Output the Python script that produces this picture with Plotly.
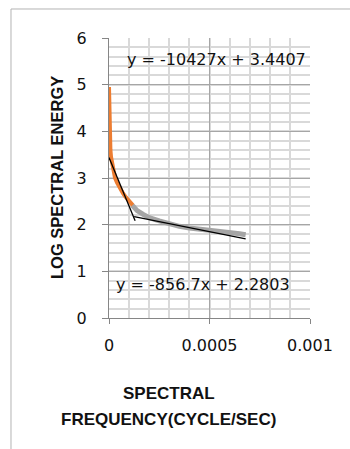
import plotly.graph_objects as go

# Low-frequency part of the spectrum (orange)
low_freq = [0, 0.000002, 0.000004, 0.000007, 0.00001, 0.00002, 0.00003, 0.00004,
            0.00005, 0.00006, 0.00007, 0.00008, 0.00009, 0.0001, 0.00011, 0.000118]
low_energy = [4.95, 4.3, 3.9, 3.6, 3.45, 3.2, 3.0, 2.9,
              2.81, 2.74, 2.67, 2.61, 2.56, 2.51, 2.46, 2.42]

# High-frequency part of the spectrum (gray)
high_freq = [0.000115, 0.00014, 0.00017, 0.0002, 0.00025, 0.0003, 0.00035, 0.0004,
             0.00045, 0.0005, 0.00055, 0.0006, 0.00065, 0.00068]
high_energy = [2.42, 2.30, 2.22, 2.15, 2.08, 2.01, 1.965, 1.93,
               1.91, 1.88, 1.855, 1.835, 1.805, 1.785]

# Linear trend fits: slope, intercept, x-extent
fit1_slope, fit1_icpt, fit1_range = -10427, 3.4407, [0, 0.00013]
fit2_slope, fit2_icpt, fit2_range = -856.7, 2.2803, [0.000125, 0.00068]

x_ticks = [0, 0.0005, 0.001]
x_tick_text = ["0", "0.0005", "0.001"]
y_ticks = [0, 1, 2, 3, 4, 5, 6]

FONT = "DejaVu Sans"
TXT = "#111111"

fig = go.Figure()
fig.add_trace(go.Scatter(x=high_freq, y=high_energy, mode="lines",
                         line=dict(color="#A5A5A5", width=5), showlegend=False))
fig.add_trace(go.Scatter(x=low_freq, y=low_energy, mode="lines",
                         line=dict(color="#ED7D31", width=4), showlegend=False))

for slope, icpt, rng in [(fit1_slope, fit1_icpt, fit1_range),
                         (fit2_slope, fit2_icpt, fit2_range)]:
    fig.add_trace(go.Scatter(x=rng, y=[slope * v + icpt for v in rng], mode="lines",
                             line=dict(color="#000000", width=1.3), showlegend=False))

fig.update_layout(
    width=350, height=449,
    margin=dict(l=109, r=40, t=38, b=131, pad=0),
    paper_bgcolor="white", plot_bgcolor="white",
    font=dict(family=FONT, size=16, color=TXT),
    xaxis=dict(range=[0, 0.001], tickvals=x_ticks, ticktext=x_tick_text,
               showgrid=True, gridcolor="#a6a6a6", gridwidth=1,
               showline=True, linecolor="#868686", linewidth=1,
               zeroline=False, ticks="outside", ticklen=5, tickcolor="#868686",
               tickfont=dict(family=FONT, size=16, color=TXT),
               ticklabelstandoff=8,
               minor=dict(dtick=0.0001, showgrid=True, gridcolor="#d9d9d9",
                          gridwidth=1.5, ticks="")),
    yaxis=dict(range=[0, 6], tickvals=y_ticks,
               showgrid=True, gridcolor="#a6a6a6", gridwidth=1,
               showline=True, linecolor="#868686", linewidth=1,
               zeroline=False, ticks="outside", ticklen=6, tickcolor="#868686",
               tickfont=dict(family=FONT, size=16, color=TXT),
               ticklabelstandoff=12,
               minor=dict(dtick=0.2, showgrid=True, gridcolor="#d9d9d9",
                          gridwidth=1.5, ticks="")),
    shapes=[
        dict(type="line", xref="paper", yref="paper", x0=-0.4876, x1=-0.4876,
             y0=-0.6, y1=1.1036, line=dict(color="#b3b3b3", width=1)),
        dict(type="line", xref="paper", yref="paper", x0=-0.4876, x1=1.5,
             y0=1.1036, y1=1.1036, line=dict(color="#b3b3b3", width=1)),
    ],
    annotations=[
        dict(text=f"y = {fit1_slope}x + {fit1_icpt}", x=0.000535, y=5.53,
             xref="x", yref="y", showarrow=False,
             xanchor="center", yanchor="middle",
             font=dict(family=FONT, size=16, color=TXT)),
        dict(text=f"y = {fit2_slope}x + {fit2_icpt}", x=0.00047, y=0.71,
             xref="x", yref="y", showarrow=False,
             xanchor="center", yanchor="middle",
             font=dict(family=FONT, size=16, color=TXT)),
        dict(text="<b>LOG SPECTRAL ENERGY</b>", textangle=-90,
             x=-0.256, y=0.502, xref="paper", yref="paper", showarrow=False,
             xanchor="center", yanchor="middle",
             font=dict(family="Liberation Sans", size=16.5, color=TXT)),
        dict(text="<b>SPECTRAL</b>", x=0.2985, y=-0.268,
             xref="paper", yref="paper", showarrow=False,
             xanchor="center", yanchor="middle",
             font=dict(family="Liberation Sans", size=17, color=TXT)),
        dict(text="<b>FREQUENCY(CYCLE/SEC)</b>", x=0.2985, y=-0.364,
             xref="paper", yref="paper", showarrow=False,
             xanchor="center", yanchor="middle",
             font=dict(family="Liberation Sans", size=17, color=TXT)),
    ],
)

fig.write_html("out.html")
